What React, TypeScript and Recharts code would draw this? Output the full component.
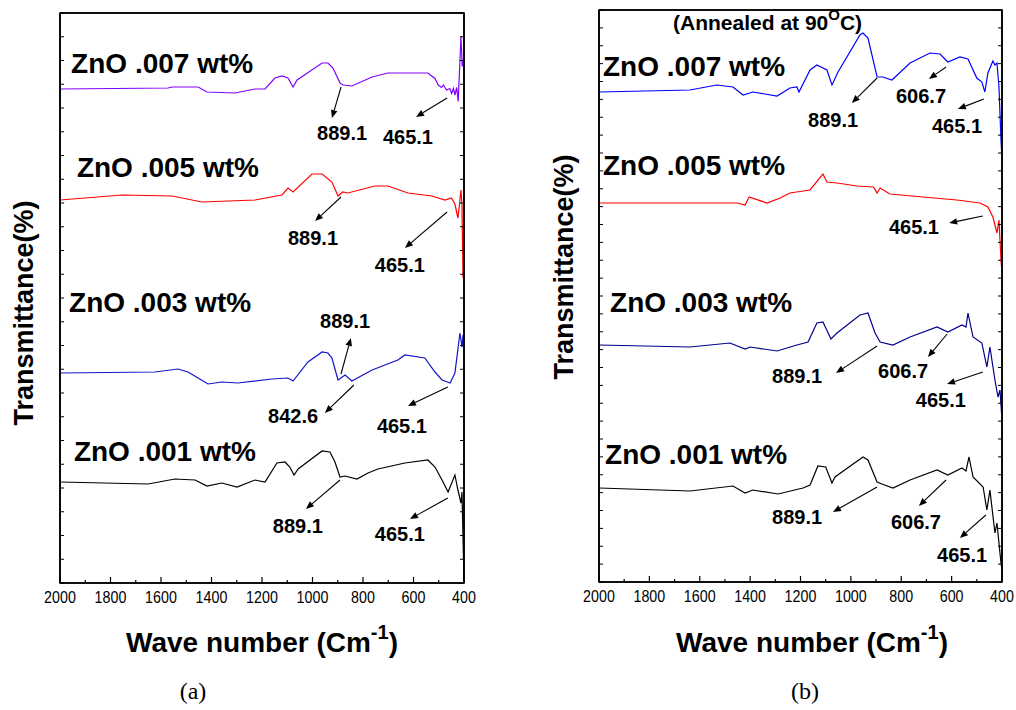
import React from 'react';
import { LineChart, Line, XAxis, YAxis, ReferenceDot, ReferenceLine, ReferenceArea } from 'recharts';

const SANS = "Arial, 'Liberation Sans', Helvetica, sans-serif";

// ---------- axis ticks ----------
const xMinorTicks = [2000, 1900, 1800, 1700, 1600, 1500, 1400, 1300, 1200, 1100, 1000, 900, 800, 700, 600, 500, 400];
const xTickLabels = ['2000', '1800', '1600', '1400', '1200', '1000', '800', '600', '400'];
const leftYTicks = Array.from({ length: 25 }, (_, i) => i * 4.75);
const rightYTicks = Array.from({ length: 33 }, (_, i) => i * 3.575);

// ---------- panel (a) spectra: wavenumber (cm-1) / transmittance (a.u., offset) ----------
const aW007 = [2000, 1572, 1556, 1453, 1418, 1307, 1228, 1188, 1149, 1121, 1097, 1077, 1061, 962, 939, 919, 891, 879, 844, 764, 701, 622, 543, 515, 502, 489, 482, 469, 456, 449, 442, 436, 429, 423, 412, 407, 402, 400];
const aT007 = [98.8, 99.0, 99.2, 99.2, 98.2, 98.0, 98.8, 98.8, 101.0, 101.4, 101.0, 99.2, 100.6, 104.0, 104.0, 103.0, 100.0, 99.6, 99.4, 101.2, 102.0, 102.0, 102.0, 100.9, 99.6, 99.1, 99.6, 98.6, 98.9, 97.9, 98.9, 97.6, 99.1, 96.3, 109.3, 103.3, 104.6, 103.0];

const aW005 = [2000, 1754, 1556, 1438, 1228, 1121, 1097, 1077, 1002, 962, 923, 899, 880, 860, 753, 701, 622, 527, 475, 450, 436, 424, 416, 412, 408, 404, 400];
const aT005 = [76.6, 77.6, 77.4, 76.2, 76.6, 77.6, 79.0, 78.2, 81.8, 81.8, 80.2, 77.4, 78.2, 78.0, 79.4, 79.4, 78.0, 77.4, 76.6, 77.0, 75.8, 73.0, 76.6, 78.6, 75.6, 61.2, 60.6];

const aW003 = [2000, 1624, 1533, 1493, 1453, 1414, 1359, 1295, 1161, 1097, 1077, 1018, 962, 939, 923, 899, 871, 844, 764, 662, 634, 555, 515, 487, 455, 436, 416, 408, 404, 400];
const aT003 = [42.0, 42.2, 42.8, 42.2, 41.0, 39.8, 40.2, 40.0, 40.8, 41.0, 40.4, 44.2, 46.2, 46.0, 45.0, 40.6, 41.6, 40.4, 42.6, 44.6, 45.6, 45.0, 42.2, 40.6, 40.0, 42.0, 50.0, 47.2, 49.6, 44.6];

const aW001 = [2000, 1651, 1545, 1465, 1418, 1359, 1299, 1228, 1188, 1141, 1109, 1090, 1073, 1057, 962, 931, 911, 891, 871, 824, 780, 741, 634, 543, 515, 487, 463, 436, 424, 412, 408, 400];
const aT001 = [20.2, 19.8, 20.8, 20.6, 19.4, 20.0, 19.2, 20.6, 20.2, 24.0, 24.2, 23.2, 21.6, 22.8, 26.4, 26.2, 24.2, 21.2, 21.4, 20.8, 22.0, 22.8, 24.0, 24.6, 23.2, 20.6, 18.2, 21.6, 18.6, 16.0, 18.2, 0.6];

// ---------- panel (b) spectra ----------
const bW007 = [2000, 1639, 1532, 1468, 1428, 1389, 1293, 1242, 1214, 1206, 1162, 1135, 1095, 1075, 1051, 964, 952, 932, 896, 873, 837, 765, 686, 646, 615, 567, 535, 500, 480, 468, 456, 436, 428, 420, 412, 404, 400];
const bT007 = [98.0, 98.4, 99.4, 99.0, 97.4, 98.0, 97.2, 98.8, 99.0, 98.0, 102.4, 103.4, 102.4, 99.4, 102.0, 109.4, 109.8, 108.8, 101.0, 101.0, 100.4, 103.8, 105.8, 105.6, 104.0, 105.0, 104.6, 100.8, 100.0, 98.0, 101.8, 104.2, 103.4, 103.8, 99.0, 88.4, 84.4];

const bW005 = [2000, 1452, 1420, 1404, 1333, 1281, 1242, 1162, 1111, 1095, 1055, 976, 910, 896, 884, 845, 714, 579, 487, 456, 436, 420, 412, 404, 400];
const bT005 = [75.8, 75.8, 75.4, 77.0, 75.8, 76.8, 77.8, 78.4, 81.6, 80.0, 79.8, 79.2, 79.0, 77.8, 78.8, 77.6, 77.0, 76.4, 75.8, 75.0, 73.0, 69.8, 72.4, 64.4, 61.8];

const bW003 = [2000, 1639, 1480, 1420, 1400, 1293, 1214, 1170, 1135, 1111, 1092, 1079, 1055, 964, 932, 904, 884, 833, 765, 658, 615, 559, 543, 535, 515, 480, 460, 448, 428, 416, 408, 400];
const bT003 = [47.4, 47.0, 47.8, 46.6, 47.0, 46.2, 47.4, 48.0, 51.8, 52.0, 50.0, 48.6, 49.8, 53.4, 53.8, 49.8, 48.0, 47.4, 49.0, 51.0, 50.0, 51.4, 51.0, 53.8, 49.0, 47.8, 43.0, 47.0, 40.4, 37.0, 38.4, 32.4];

const bW001 = [2000, 1639, 1468, 1420, 1390, 1289, 1190, 1162, 1131, 1100, 1075, 1063, 952, 932, 896, 877, 833, 765, 658, 615, 559, 543, 531, 515, 475, 460, 448, 428, 420, 404, 400];
const bT001 = [18.8, 18.2, 19.2, 17.8, 18.4, 17.6, 18.8, 19.4, 23.2, 23.0, 19.8, 21.0, 25.0, 24.4, 20.0, 19.6, 18.8, 20.4, 22.4, 21.4, 22.8, 22.2, 25.0, 21.0, 19.0, 14.4, 18.4, 9.8, 11.8, 3.8, 2.4];

const mk = (ws: number[], ts: number[]) => ws.map((w, i) => ({ w, t: ts[i] }));

const seriesA = [
  { key: 'a007', color: '#8000FF', data: mk(aW007, aT007) },
  { key: 'a005', color: '#FF0000', data: mk(aW005, aT005) },
  { key: 'a003', color: '#1414C8', data: mk(aW003, aT003) },
  { key: 'a001', color: '#000000', data: mk(aW001, aT001) },
];
const seriesB = [
  { key: 'b007', color: '#0000FF', data: mk(bW007, bT007) },
  { key: 'b005', color: '#FF0000', data: mk(bW005, bT005) },
  { key: 'b003', color: '#00008B', data: mk(bW003, bT003) },
  { key: 'b001', color: '#000000', data: mk(bW001, bT001) },
];

// ---------- annotations ----------
const sampleLabelsA = [
  { text: 'ZnO .007 wt%', w: 1956, t: 102.0 },
  { text: 'ZnO .005 wt%', w: 1933, t: 81.2 },
  { text: 'ZnO .003 wt%', w: 1964, t: 54.2 },
  { text: 'ZnO .001 wt%', w: 1945, t: 24.4 },
];
const sampleLabelsB = [
  { text: 'ZnO .007 wt%', w: 1984, t: 101.2 },
  { text: 'ZnO .005 wt%', w: 1984, t: 81.4 },
  { text: 'ZnO .003 wt%', w: 1956, t: 54.0 },
  { text: 'ZnO .001 wt%', w: 1976, t: 23.6 },
];
const peakLabelsA = [
  { text: '889.1', w: 982, t: 88.6 },
  { text: '465.1', w: 721, t: 87.8 },
  { text: '889.1', w: 1097, t: 67.6 },
  { text: '465.1', w: 753, t: 62.2 },
  { text: '889.1', w: 970, t: 51.0 },
  { text: '842.6', w: 1176, t: 32.0 },
  { text: '465.1', w: 745, t: 30.0 },
  { text: '889.1', w: 1157, t: 10.0 },
  { text: '465.1', w: 753, t: 8.4 },
];
const peakLabelsB = [
  { text: '889.1', w: 1170, t: 91.0 },
  { text: '606.7', w: 821, t: 95.8 },
  { text: '465.1', w: 678, t: 89.8 },
  { text: '465.1', w: 849, t: 69.6 },
  { text: '889.1', w: 1313, t: 39.8 },
  { text: '606.7', w: 892, t: 40.8 },
  { text: '465.1', w: 742, t: 35.0 },
  { text: '889.1', w: 1313, t: 11.6 },
  { text: '606.7', w: 841, t: 10.6 },
  { text: '465.1', w: 658, t: 4.0 },
];
const arrowsA = [
  [887, 99.2, 923, 93.0],
  [467, 97.0, 590, 93.2],
  [887, 77.2, 990, 72.4],
  [467, 74.2, 634, 67.0],
  [887, 41.8, 848, 49.0],
  [836, 39.6, 951, 34.0],
  [464, 39.2, 622, 35.4],
  [891, 20.6, 1026, 14.8],
  [464, 17.0, 614, 12.8],
];
const arrowsB = [
  [896, 100.8, 996, 95.8],
  [622, 103.0, 690, 100.6],
  [472, 96.6, 575, 94.6],
  [476, 73.2, 610, 71.8],
  [896, 47.2, 1059, 41.8],
  [618, 49.6, 694, 45.0],
  [476, 42.0, 618, 39.6],
  [896, 19.0, 1071, 14.0],
  [622, 20.4, 730, 15.2],
  [464, 13.4, 567, 8.8],
];

// ---------- tick renderers ----------
const BottomTick = (p: any) => {
  const v = p.payload.value;
  const label = xTickLabels.find((l) => Number(l) === v);
  return (
    <g>
      <line x1={p.x} y1={p.y} x2={p.x} y2={p.y - (label ? 6 : 3)} stroke="#000" strokeWidth={1.2} />
      {label && (
        <text transform={`translate(${p.x},${p.y + 20}) scale(0.84,1)`} x={0} y={0} textAnchor="middle" fontSize={17}
          fontFamily={SANS} fill="#000">{label}</text>
      )}
    </g>
  );
};
const TopTick = (p: any) => {
  const v = p.payload.value;
  const major = xTickLabels.some((l) => Number(l) === v);
  return <line x1={p.x} y1={p.y} x2={p.x} y2={p.y + (major ? 6 : 3)} stroke="#000" strokeWidth={1.2} />;
};
const LeftTick = (p: any) => <line x1={p.x} y1={p.y} x2={p.x + 4} y2={p.y} stroke="#000" strokeWidth={1} />;
const RightTick = (p: any) => <line x1={p.x} y1={p.y} x2={p.x - 4} y2={p.y} stroke="#000" strokeWidth={1} />;

const ArrowShape = (p: any) => {
  const { x1, y1, x2, y2 } = p;
  const a = Math.atan2(y2 - y1, x2 - x1);
  const L = 8, H = 3.3;
  const bx = x2 - L * Math.cos(a), by = y2 - L * Math.sin(a);
  const pts = `${x2},${y2} ${bx + H * Math.sin(a)},${by - H * Math.cos(a)} ${bx - H * Math.sin(a)},${by + H * Math.cos(a)}`;
  return (
    <g>
      <line x1={x1} y1={y1} x2={bx} y2={by} stroke="#000" strokeWidth={1.1} />
      <polygon points={pts} fill="#000" />
    </g>
  );
};

const axisLine = { stroke: '#000', strokeWidth: 1.6 };

function Panel(props: any) {
  const { left, width, height, margin, yMax, yTicks, series, sampleLabels, peakLabels, arrows, title } = props;
  return (
    <div style={{ position: 'absolute', left, top: 0 }}>
      <LineChart width={width} height={height} margin={margin} style={{ overflow: 'visible' }}>
        <XAxis xAxisId="b" dataKey="w" type="number" domain={[400, 2000]} reversed ticks={xMinorTicks} interval={0}
          tickSize={0} tickMargin={0} height={30} axisLine={axisLine} tickLine={false} tick={<BottomTick />} allowDataOverflow />
        <XAxis xAxisId="t" orientation="top" type="number" domain={[400, 2000]} reversed ticks={xMinorTicks} interval={0}
          tickSize={0} tickMargin={0} height={1} axisLine={axisLine} tickLine={false} tick={<TopTick />} allowDataOverflow />
        <YAxis yAxisId="l" type="number" domain={[0, yMax]} ticks={yTicks} interval={0} width={1} tickSize={0} tickMargin={0}
          axisLine={axisLine} tickLine={false} tick={<LeftTick />} allowDataOverflow />
        <YAxis yAxisId="r" orientation="right" type="number" domain={[0, yMax]} ticks={yTicks} interval={0} width={1} tickSize={0}
          tickMargin={0} axisLine={axisLine} tickLine={false} tick={<RightTick />} allowDataOverflow />
        <ReferenceArea xAxisId="b" yAxisId="l" x1={2000} x2={400} y1={0} y2={yMax} fill="none" fillOpacity={0}
          stroke="#000" strokeWidth={1.6} ifOverflow="visible" />
        {series.map((s: any) => (
          <Line key={s.key} xAxisId="b" yAxisId="l" data={s.data} dataKey="t" type="linear" stroke={s.color}
            strokeWidth={1.2} dot={false} activeDot={false} isAnimationActive={false} />
        ))}
        {arrows.map((a: number[], i: number) => (
          <ReferenceLine key={'ar' + i} xAxisId="b" yAxisId="l" segment={[{ x: a[0], y: a[1] }, { x: a[2], y: a[3] }]}
            shape={ArrowShape} ifOverflow="visible" />
        ))}
        {sampleLabels.map((l: any, i: number) => (
          <ReferenceDot key={'sl' + i} xAxisId="b" yAxisId="l" x={l.w} y={l.t} ifOverflow="visible"
            shape={(p: any) => (
              <text x={p.cx} y={p.cy} fontSize={28} fontWeight="bold" fontFamily={SANS} fill="#000">{l.text}</text>
            )} />
        ))}
        {peakLabels.map((l: any, i: number) => (
          <ReferenceDot key={'pl' + i} xAxisId="b" yAxisId="l" x={l.w} y={l.t} ifOverflow="visible"
            shape={(p: any) => (
              <text x={p.cx} y={p.cy} fontSize={20} fontWeight="bold" fontFamily={SANS} fill="#000">{l.text}</text>
            )} />
        ))}
        {title && (
          <ReferenceDot xAxisId="b" yAxisId="l" x={title.w} y={title.t} ifOverflow="visible"
            shape={(p: any) => (
              <text x={p.cx} y={p.cy} fontSize={21} fontWeight="bold" fontFamily={SANS} fill="#000">
                {title.main}
                <tspan fontSize={15} dy={-10}>{title.sup}</tspan>
                <tspan dy={10}>{title.end}</tspan>
              </text>
            )} />
        )}
      </LineChart>
    </div>
  );
}

const titleB = { main: '(Annealed at 90', sup: 'O', end: 'C)', w: 1706, t: 110.4 };

export default function App() {
  return (
    <div style={{ position: 'absolute', left: 0, top: 0, width: 1016, height: 710, background: '#fff', overflow: 'hidden' }}>
      <Panel left={0} width={490} height={640} margin={{ top: 12, left: 59, right: 25, bottom: 27 }}
        yMax={114} yTicks={leftYTicks} series={seriesA} sampleLabels={sampleLabelsA} peakLabels={peakLabelsA} arrows={arrowsA} />
      <Panel left={540} width={476} height={640} margin={{ top: 9, left: 58, right: 13, bottom: 28 }}
        yMax={114.4} yTicks={rightYTicks} series={seriesB} sampleLabels={sampleLabelsB} peakLabels={peakLabelsB} arrows={arrowsB}
        title={titleB} />
      <svg width={1016} height={710} style={{ position: 'absolute', left: 0, top: 0, pointerEvents: 'none' }}>
        <text x={262} y={652} textAnchor="middle" fontSize={28} fontWeight="bold" fontFamily={SANS} fill="#000">
          Wave number (Cm<tspan fontSize={20} dy={-13}>-1</tspan><tspan dy={13}>)</tspan>
        </text>
        <text x={812} y={652} textAnchor="middle" fontSize={28} fontWeight="bold" fontFamily={SANS} fill="#000">
          Wave number (Cm<tspan fontSize={20} dy={-13}>-1</tspan><tspan dy={13}>)</tspan>
        </text>
        <text transform="translate(33,313) rotate(-90)" textAnchor="middle" fontSize={27} fontWeight="bold" fontFamily={SANS} fill="#000">
          Transmittance(%)
        </text>
        <text transform="translate(573,267) rotate(-90)" textAnchor="middle" fontSize={27} fontWeight="bold" fontFamily={SANS} fill="#000">
          Transmittance(%)
        </text>
        <text x={193} y={699} textAnchor="middle" fontSize={24} fontFamily="'Liberation Serif', 'Times New Roman', serif" fill="#000">(a)</text>
        <text x={805} y={699} textAnchor="middle" fontSize={24} fontFamily="'Liberation Serif', 'Times New Roman', serif" fill="#000">(b)</text>
      </svg>
    </div>
  );
}
